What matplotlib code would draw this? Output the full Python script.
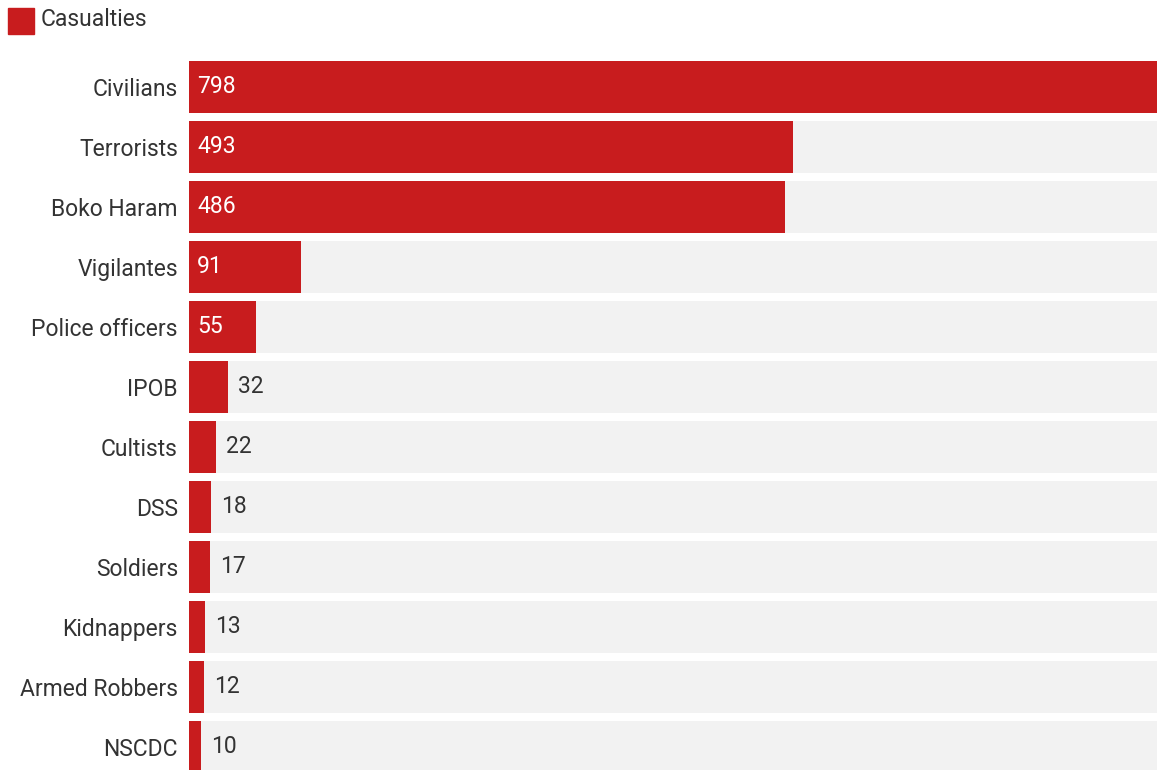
import numpy as np
import matplotlib.pyplot as plt
from matplotlib.patches import Rectangle

plt.rcParams['font.family'] = ['Roboto', 'DejaVu Sans']

categories = ["Civilians", "Terrorists", "Boko Haram", "Vigilantes", "Police officers",
              "IPOB", "Cultists", "DSS", "Soldiers", "Kidnappers", "Armed Robbers", "NSCDC"]
casualties = [798, 493, 486, 91, 55, 32, 22, 18, 17, 13, 12, 10]

red = "#C81C1E"
track = "#F2F2F2"
txt = "#333333"
fs = 16.5

fig = plt.figure(figsize=(11.57, 7.70), dpi=100)
ax = fig.add_axes([189 / 1157, 0, 1 - 189 / 1157, 1 - 61 / 770])

y = np.arange(len(categories))
h = 52 / 60
xmax = 790

ax.barh(y, [xmax * 2] * len(y), height=h, color=track, left=0)
ax.barh(y, casualties, height=h, color=red)

for i, v in enumerate(casualties):
    if v >= 50:
        ax.text(8 / 1.225, i, str(v), color="white", va="center", ha="left", fontsize=fs)
    else:
        ax.text(v + 10 / 1.225, i, str(v), color=txt, va="center", ha="left", fontsize=fs)

ax.set_xlim(0, xmax)
ax.set_ylim(11.817 - h / 2, -h / 2)
ax.set_yticks(y)
ax.set_yticklabels(categories, fontsize=fs, color=txt)
ax.tick_params(axis="y", length=0, pad=8)
ax.set_xticks([])
for s in ax.spines.values():
    s.set_visible(False)

# legend
fig.patches.append(Rectangle((8 / 1157, 1 - 34 / 770), 26 / 1157, 26 / 770,
                             transform=fig.transFigure, color=red))
fig.text(41 / 1157, 1 - 20 / 770, "Casualties", fontsize=fs, color=txt, va="center", ha="left")

fig.savefig("out.png", dpi=100)
